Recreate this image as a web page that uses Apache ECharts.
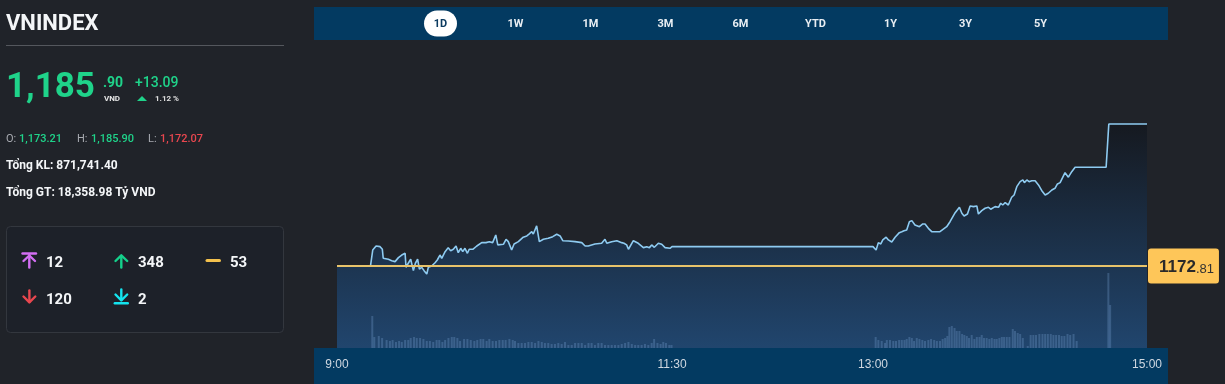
<!DOCTYPE html>
<html><head><meta charset="utf-8">
<script src="https://cdn.jsdelivr.net/npm/echarts@6/dist/echarts.min.js"></script>
<style>html,body{margin:0;padding:0;background:#202329;}#c{width:1225px;height:384px;}</style>
</head><body><div id="c"></div>
<script>
// ---- data (minutes after 9:00) ----
const priceTimes = [0,15,16.0,17.5,19.3,20.3,20.7,23.0,24.5,26.0,
27.5,29.0,30.5,30.9,31.9,33.0,34.2,35.1,36.1,36.9,
37.9,39.0,40.2,40.9,42.4,43.9,44.9,46.1,46.9,48.4,
49.8,50.9,52.1,53.3,54.3,55.4,56.3,57.3,58.4,59.2,
60.8,62.6,64.8,66.7,68.2,69.7,71.1,72.0,74.5,75.7,
76.7,78.2,79.3,81.2,83.4,85.0,86.1,87.2,87.9,89.4,
90.6,92.4,94.6,96.6,98.4,99.9,101.1,103.6,106.6,109.6,
111.1,112.5,115.5,118.5,120.0,120.8,123.0,125.3,127.5,128.5,
129.7,130.5,132.7,134.9,137.2,138.7,139.9,140.9,142.1,143.9,
145.4,146.9,149.1,150.0,240.0,241.4,242.4,243.5,244.4,245.9,
246.9,248.4,249.9,251.8,252.9,253.9,255.1,256.3,257.4,258.8,
260.8,262.3,263.3,264.8,266.3,270.0,273.0,274.5,276.8,278.7,
279.8,280.8,282.3,283.5,285.0,286.5,287.2,288.7,290.2,291.7,
292.7,294.7,296.2,297.2,298.1,299.2,300.6,302.1,303.2,304.4,
305.9,307.1,307.8,308.9,309.9,311.1,312.6,314.1,315.6,317.1,
318.5,320.1,321.5,322.6,323.8,324.5,326.0,327.5,329.0,330.5,
344.4,345.6,362.7];
const priceValues = [1172.81,1172.81,1174.28,1174.65,1174.59,1174.35,1173.52,1173.43,1173.30,1173.21,
1173.58,1173.82,1173.98,1172.69,1173.06,1173.43,1172.38,1173.06,1173.43,1172.51,
1172.69,1172.38,1172.07,1172.69,1172.81,1173.11,1173.36,1173.82,1173.52,1174.13,
1174.50,1174.22,1174.35,1174.65,1174.04,1174.44,1174.13,1174.44,1173.98,1174.35,
1174.35,1174.65,1174.96,1174.96,1175.05,1174.96,1175.67,1174.75,1174.81,1175.27,
1175.05,1174.28,1174.84,1175.05,1175.46,1175.58,1175.76,1175.97,1175.76,1176.50,
1175.05,1175.27,1175.36,1175.51,1175.73,1175.58,1175.14,1175.11,1175.05,1174.96,
1174.65,1174.65,1174.84,1174.90,1175.27,1174.90,1175.05,1175.14,1174.96,1174.90,
1174.75,1174.35,1175.14,1174.90,1174.50,1174.59,1174.50,1174.75,1174.53,1174.90,
1174.81,1174.50,1174.44,1174.59,1174.59,1174.28,1174.96,1174.84,1175.21,1175.46,
1175.21,1175.02,1175.46,1175.88,1175.97,1176.06,1176.13,1176.89,1176.99,1176.59,
1176.43,1176.68,1176.68,1176.28,1175.97,1175.97,1176.43,1176.89,1177.72,1178.22,
1177.67,1177.42,1177.60,1178.34,1178.28,1178.34,1177.60,1177.91,1178.13,1178.22,
1178.04,1178.28,1178.22,1178.59,1178.43,1178.64,1178.43,1179.14,1179.35,1180.12,
1180.58,1180.74,1180.49,1180.74,1180.58,1180.67,1180.67,1180.28,1179.75,1179.35,
1179.51,1179.81,1179.97,1180.37,1180.49,1180.67,1181.41,1180.99,1181.50,1181.91,
1181.91,1185.90,1185.90];
const volTimes = [15.8,16.7,18.7,20.2,22.2,23.7,24.9,26.4,27.8,29.0,
30.5,31.9,33.0,34.5,35.7,37.2,38.7,40.2,41.6,43.1,
44.6,45.8,47.2,48.4,49.9,51.4,52.5,53.9,55.1,56.9,
58.4,59.9,61.5,62.8,64.3,65.5,67.0,68.2,69.7,71.2,
72.7,74.2,75.5,77.2,78.7,79.7,81.2,82.7,84.2,85.7,
87.2,88.7,90.2,91.7,93.1,94.6,96.1,97.6,99.1,100.6,
102.1,103.6,105.1,106.6,108.1,109.6,111.1,112.6,114.0,115.5,
117.0,118.5,120.0,121.5,123.0,124.5,126.0,127.5,129.0,130.5,
132.0,133.5,134.9,136.4,137.9,139.4,140.9,142.0,143.5,144.9,
146.1,147.3,148.8,149.8,
241.2,242.4,243.9,245.4,246.2,247.6,249.1,250.3,251.7,252.9,
254.1,255.1,256.3,257.4,258.4,259.6,260.8,262.1,263.3,264.8,
266.0,267.4,268.6,270.0,271.2,272.3,273.3,274.2,275.3,276.5,
277.5,278.7,279.9,280.9,282.0,283.0,284.2,285.4,286.5,287.7,
288.7,289.7,290.9,292.1,293.2,294.4,295.4,296.6,297.7,298.7,
299.9,301.1,302.6,303.6,304.8,305.9,307.1,309.3,310.6,311.8,
313.0,314.5,315.9,317.1,318.3,319.6,320.8,322.0,323.3,324.5,
325.7,327.1,328.3,329.8,331.2,345.4,346.2];
const volValues = [16000,5500,6000,5000,4000,3500,4000,3000,3500,3000,
4000,4000,5000,5500,5000,5000,4500,3500,3500,3000,
4000,4000,3000,4000,5000,5500,5500,5000,3500,4500,
4500,4000,3500,4000,4500,4500,3500,4500,3500,3500,
4000,4000,4000,4500,4000,3500,2500,2500,2500,3000,
3000,2500,3500,3000,2500,2500,2000,2000,2500,2000,
3000,1500,1500,2500,2500,2500,1500,2500,2500,1500,
2500,2500,1500,1500,1500,1500,1500,2000,2500,3000,
2000,1500,1500,1500,2000,1500,2500,4500,2500,2000,
3000,2500,1500,1500,
5500,4000,3500,2500,4000,4000,3500,3500,4000,4000,
4000,4500,5500,5000,3500,5000,4500,4000,3500,4000,
4500,4000,3500,3500,4500,5000,6000,10500,11000,10000,
8500,8500,7000,6500,6000,5000,6500,4500,5500,5500,
6500,5000,5000,4500,5000,4500,4500,5000,5500,5500,
5500,5500,9500,8500,7500,7000,5000,1000,6500,6500,
6500,7000,7000,7000,7000,7000,6500,6500,6500,6000,
6000,7000,6500,7000,3500,37500,21500];
const refPrice = 1172.81;
const tickMinutes = [0, 150, 240, 362.7];
const tickLabels = ['9:00', '11:30', '13:00', '15:00'];
const tabLabels = ['1D','1W','1M','3M','6M','YTD','1Y','3Y','5Y'];
const indexName = 'VNINDEX';
const lastInt = '1,185', lastDec = '.90', change = '+13.09', changePct = '1.12 %';
const openVal = '1,173.21', highVal = '1,185.90', lowVal = '1,172.07';
const totalVol = 'Tổng KL: 871,741.40';
const totalVal = 'Tổng GT: 18,358.98 Tỷ VND';
const breadthCeil = '12', breadthUp = '348', breadthFlat = '53', breadthDown = '120', breadthFloor = '2';

const GREEN = '#1fd38a', RED = '#e8474f', WHITE = '#f4f6f8';
const priceData = priceTimes.map((t, i) => [t, priceValues[i]]);
const volData = volTimes.map((t, i) => [t, volValues[i]]);

function T(x, y, text, font, fill, align) {
  return { type: 'text', x: x, y: y, silent: true, z: 20,
    style: { text: text, font: font, fill: fill, textAlign: align || 'left', textVerticalAlign: 'middle' } };
}
function L(points, color, w) {
  return { type: 'polyline', silent: true, z: 20, shape: { points: points },
    style: { stroke: color, lineWidth: w || 2.4, fill: null, lineCap: 'round', lineJoin: 'round' } };
}
const F = 'Roboto, "Noto Sans", sans-serif';
const g = [];
// left panel
g.push(T(6, 24, indexName, 'bold 22px ' + F, WHITE));
g.push({ type: 'line', silent: true, shape: { x1: 6, y1: 45.5, x2: 284, y2: 45.5 }, style: { stroke: '#54575d', lineWidth: 1 } });
g.push(T(6, 88, lastInt, 'bold 35px ' + F, GREEN));
g.push(T(103, 83, lastDec, 'bold 14px ' + F, GREEN));
g.push(T(104, 98.5, 'VND', 'bold 8px ' + F, '#e6e6e6'));
g.push(T(135, 83, change, '500 14px ' + F, GREEN));
g.push({ type: 'polygon', silent: true, shape: { points: [[137, 101], [142, 96], [147, 101]] }, style: { fill: GREEN } });
g.push(T(155, 98.5, changePct, 'bold 8px ' + F, '#e0e0e0'));
g.push(T(6, 139, 'O:', '11px ' + F, '#a8abb1'));
g.push(T(19, 139, openVal, '500 11px ' + F, GREEN));
g.push(T(77, 139, 'H:', '11px ' + F, '#a8abb1'));
g.push(T(91, 139, highVal, '500 11px ' + F, GREEN));
g.push(T(148, 139, 'L:', '11px ' + F, '#a8abb1'));
g.push(T(160, 139, lowVal, '500 11px ' + F, RED));
g.push(T(6, 166, totalVol, 'bold 12px ' + F, WHITE));
g.push(T(6, 193, totalVal, 'bold 12px ' + F, WHITE));
g.push({ type: 'rect', silent: true, z: 1, shape: { x: 6.5, y: 226.5, width: 277, height: 106, r: 4 }, style: { fill: '#1d2129', stroke: '#33373e', lineWidth: 1 } });
// breadth icons
const PUR = '#d36ef3', CYA = '#14e4ee', YEL = '#f3c14d';
g.push(L([[22.5, 253.5], [36, 253.5]], PUR));
g.push(L([[29.3, 255], [29.3, 267.5]], PUR));
g.push(L([[23.5, 261], [29.3, 255.5], [35, 261]], PUR));
g.push(T(46, 263, breadthCeil, 'bold 15px ' + F, WHITE));
g.push(L([[121.3, 256], [121.3, 267.5]], '#14d18b'));
g.push(L([[115.5, 261], [121.3, 255.3], [127.2, 261]], '#14d18b'));
g.push(T(138, 263, breadthUp, 'bold 15px ' + F, WHITE));
g.push(L([[207, 260.6], [219.5, 260.6]], YEL, 3));
g.push(T(230, 263, breadthFlat, 'bold 15px ' + F, WHITE));
g.push(L([[29.4, 290.5], [29.4, 302]], RED));
g.push(L([[23.5, 296.5], [29.4, 302.3], [35.3, 296.5]], RED));
g.push(T(46, 300, breadthDown, 'bold 15px ' + F, WHITE));
g.push(L([[121.3, 289.5], [121.3, 300]], CYA));
g.push(L([[115.5, 294.5], [121.3, 300.3], [127.2, 294.5]], CYA));
g.push(L([[114.8, 303.2], [127.8, 303.2]], CYA));
g.push(T(138, 300, breadthFloor, 'bold 15px ' + F, WHITE));
// tab bar & axis band
g.push({ type: 'rect', silent: true, z: -1, shape: { x: 314, y: 7, width: 854, height: 33 }, style: { fill: '#033a61' } });
g.push({ type: 'rect', silent: true, z: -1, shape: { x: 314, y: 348, width: 854, height: 36 }, style: { fill: '#033a61' } });
g.push({ type: 'rect', silent: true, z: 5, shape: { x: 424, y: 10.5, width: 33, height: 26, r: 13 }, style: { fill: '#ffffff' } });
tabLabels.forEach((t, i) => {
  g.push(T(440.5 + 75 * i, 24.5, t, 'bold 11px ' + F, i === 0 ? '#0c3b60' : '#e9eef3', 'center'));
});

const chart = echarts.init(document.getElementById('c'), null, { renderer: 'canvas' });
chart.setOption({
  backgroundColor: '#202329',
  animation: false,
  graphic: g,
  grid: { left: 337, right: 78, top: 47, bottom: 36 },
  xAxis: {
    type: 'value', min: 0, max: 362.7, z: 10,
    axisLine: { show: false }, axisTick: { show: false }, splitLine: { show: false },
    axisLabel: {
      customValues: tickMinutes, margin: 11, color: '#d0d8e1', fontSize: 12,
      fontFamily: '"Liberation Sans", Arial, sans-serif',
      formatter: v => tickLabels[tickMinutes.indexOf(v)] || ''
    }
  },
  yAxis: [
    { type: 'value', min: 1165.25, max: 1192.99, show: false, splitLine: { show: false } },
    { type: 'value', min: 0, max: 150500, show: false, splitLine: { show: false } }
  ],
  series: [
    {
      type: 'line', data: priceData, showSymbol: false, symbol: 'none', z: 2,
      lineStyle: { color: '#8ecbf1', width: 1.6 },
      areaStyle: {
        origin: 'start',
        color: new echarts.graphic.LinearGradient(0, 0, 0, 1, [
          { offset: 0, color: '#11151c' }, { offset: 1, color: '#21548b' }
        ])
      },
      markLine: {
        silent: true, symbol: 'none', animation: false,
        lineStyle: { color: '#e8c36a', width: 2, type: 'solid' },
        data: [{ yAxis: refPrice }],
        label: {
          show: true, position: 'end', distance: 1,
          formatter: () => '{a|' + Math.floor(refPrice) + '}{b|.' + refPrice.toFixed(2).split('.')[1] + '}',
          backgroundColor: '#fec659', borderRadius: 3, padding: [9, 5, 8, 11],
          rich: {
            a: { fontSize: 17, fontWeight: 'bold', color: '#2a2a2a', fontFamily: '"Liberation Sans", Arial, sans-serif', lineHeight: 18, verticalAlign: 'bottom' },
            b: { fontSize: 13, color: '#333', fontFamily: '"Liberation Sans", Arial, sans-serif', lineHeight: 18, verticalAlign: 'bottom', padding: [3, 0, 0, 0] }
          }
        }
      }
    },
    {
      type: 'bar', data: volData, xAxisIndex: 0, yAxisIndex: 1, barWidth: 2, z: 3,
      itemStyle: { color: 'rgba(140,185,235,0.25)' }
    }
  ]
});
</script></body></html>
